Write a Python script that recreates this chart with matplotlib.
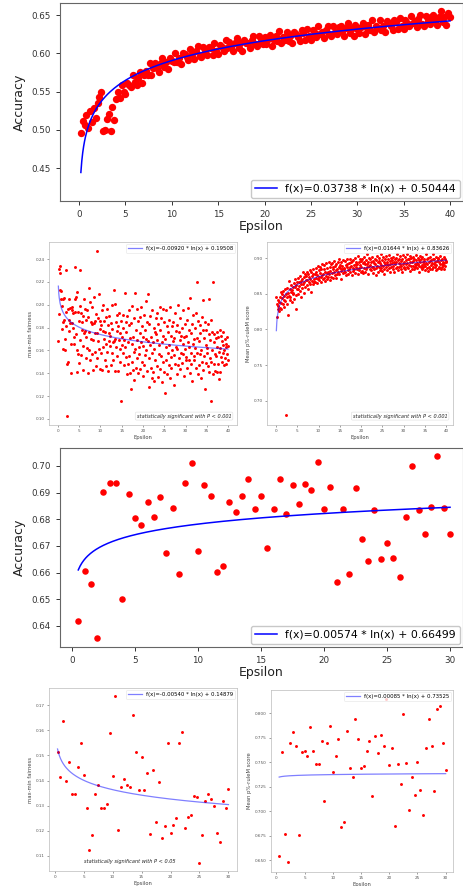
import numpy as np
import matplotlib
matplotlib.use("Agg")
import matplotlib.pyplot as plt

# ---------------- data ----------------
# Panel 1: accuracy vs epsilon (dense sweep)
eps1 = np.round(np.arange(1, 201) * 0.2, 1)
acc1 = [.496,.512,.506,.519,.503,.524,.510,.529,.516,.535,
        .543,.549,.498,.500,.514,.521,.498,.530,.513,.540,
        .549,.542,.558,.550,.547,.561,.559,.556,.571,.563,
        .559,.568,.575,.561,.571,.577,.572,.587,.572,.581,
        .587,.581,.576,.587,.594,.582,.589,.579,.594,.590,
        .589,.600,.588,.594,.586,.601,.599,.595,.591,.605,
        .599,.592,.603,.609,.597,.595,.608,.602,.598,.608,
        .607,.598,.613,.603,.599,.611,.608,.603,.617,.607,
        .615,.608,.603,.613,.620,.607,.613,.603,.617,.613,
        .614,.607,.618,.623,.612,.609,.622,.616,.612,.621,
        .612,.619,.624,.610,.618,.622,.616,.629,.613,.621,
        .618,.628,.616,.622,.613,.628,.625,.621,.616,.630,
        .627,.618,.632,.622,.618,.630,.626,.621,.635,.625,
        .628,.620,.631,.636,.625,.622,.635,.628,.625,.634,
        .636,.629,.623,.633,.640,.627,.633,.623,.637,.632,
        .627,.634,.639,.625,.633,.637,.630,.643,.628,.635,
        .633,.643,.630,.636,.628,.642,.639,.635,.630,.644,
        .641,.632,.646,.636,.632,.644,.640,.636,.649,.639,
        .642,.634,.645,.650,.638,.636,.649,.642,.638,.648,
        .650,.643,.637,.647,.655,.641,.648,.637,.652,.647]
fit1 = (0.03738, 0.50444)

# Panels 2 & 3: fairness metrics vs epsilon (dense sweep)
eps23 = np.round(np.arange(1, 401) * 0.1, 1)
fair2 = [.168,.192,.231,.228,.234,.213,.205,.212,.199,.179,
         .205,.185,.161,.187,.206,.160,.170,.181,.194,.230,
         .148,.103,.150,.196,.187,.205,.177,.184,.197,.166,
         .140,.184,.195,.198,.193,.180,.172,.166,.233,.194,
         .205,.207,.174,.141,.211,.160,.194,.157,.186,.149,
         .199,.169,.230,.193,.156,.178,.185,.143,.190,.164,
         .175,.205,.177,.196,.153,.187,.172,.162,.195,.140,
         .189,.160,.215,.176,.152,.202,.170,.185,.157,.183,
         .198,.169,.143,.184,.207,.175,.159,.186,.146,.192,
         .247,.175,.153,.188,.168,.209,.161,.179,.144,.186,
         .158,.182,.195,.143,.177,.163,.200,.170,.186,.152,
         .176,.146,.189,.166,.196,.159,.182,.142,.175,.168,
         .190,.164,.173,.147,.184,.200,.158,.179,.167,.152,
         .213,.168,.201,.170,.142,.185,.163,.177,.155,.191,
         .142,.181,.169,.193,.161,.175,.150,.186,.116,.165,
         .172,.191,.158,.180,.147,.169,.210,.163,.185,.154,
         .176,.139,.190,.148,.167,.182,.155,.195,.140,.171,
         .126,.184,.150,.166,.199,.143,.172,.159,.188,.134,
         .210,.161,.145,.178,.196,.153,.169,.140,.186,.163,
         .157,.189,.175,.144,.167,.198,.150,.181,.138,.172,
         .164,.191,.147,.178,.156,.170,.203,.160,.185,.142,
         .209,.168,.153,.183,.128,.165,.190,.145,.172,.136,
         .158,.195,.167,.141,.180,.161,.133,.176,.152,.188,
         .174,.146,.193,.169,.137,.183,.157,.165,.198,.144,
         .178,.155,.188,.132,.167,.196,.150,.173,.141,.185,
         .123,.170,.152,.195,.163,.139,.181,.158,.176,.147,
         .187,.165,.136,.198,.154,.173,.145,.181,.160,.168,
         .185,.130,.171,.156,.193,.148,.177,.163,.139,.182,
         .161,.200,.147,.176,.153,.169,.188,.144,.173,.158,
         .180,.149,.166,.195,.157,.172,.138,.183,.161,.152,
         .173,.154,.187,.145,.167,.197,.152,.163,.178,.140,
         .206,.158,.175,.148,.183,.133,.166,.191,.155,.170,
         .152,.180,.162,.193,.145,.171,.220,.158,.186,.139,
         .168,.147,.182,.157,.175,.136,.160,.189,.150,.178,
         .204,.143,.171,.155,.185,.126,.165,.149,.178,.158,
         .162,.183,.146,.174,.141,.205,.153,.169,.116,.187,
         .150,.176,.160,.139,.220,.167,.148,.174,.157,.142,
         .171,.155,.176,.141,.163,.148,.172,.135,.159,.178,
         .162,.141,.173,.154,.168,.150,.165,.158,.176,.147,
         .160,.153,.170,.163,.148,.166,.157,.172,.152,.164]
fit2 = (-0.00920, 0.19508)

prule3 = [.845,.818,.835,.828,.841,.833,.826,.838,.846,.830,
          .837,.853,.829,.844,.849,.836,.854,.832,.841,.847,
          .856,.840,.850,.680,.845,.858,.835,.851,.820,.847,
          .868,.846,.857,.841,.862,.852,.838,.855,.849,.860,
          .851,.865,.843,.859,.870,.848,.828,.862,.856,.866,
          .857,.872,.849,.866,.861,.875,.854,.868,.845,.863,
          .870,.858,.880,.864,.873,.851,.867,.877,.860,.869,
          .875,.862,.881,.869,.857,.878,.866,.873,.883,.864,
          .871,.880,.852,.875,.868,.884,.863,.877,.871,.866,
          .878,.867,.886,.872,.881,.865,.876,.889,.870,.874,
          .883,.869,.879,.887,.873,.866,.885,.876,.891,.871,
          .877,.890,.872,.884,.868,.880,.875,.893,.879,.870,
          .886,.874,.881,.895,.877,.869,.888,.882,.874,.891,
          .879,.893,.884,.872,.887,.880,.896,.876,.889,.883,
          .872,.891,.885,.878,.894,.881,.887,.898,.877,.886,
          .890,.882,.871,.895,.884,.889,.879,.897,.886,.880,
          .885,.896,.881,.890,.876,.892,.887,.899,.883,.878,
          .893,.884,.898,.887,.880,.894,.889,.876,.896,.886,
          .882,.897,.890,.885,.900,.879,.892,.888,.895,.884,
          .891,.878,.903,.886,.894,.883,.898,.890,.881,.896,
          .887,.899,.882,.893,.879,.901,.886,.895,.891,.880,
          .897,.884,.892,.905,.888,.878,.895,.889,.900,.885,
          .890,.898,.883,.894,.887,.902,.879,.896,.888,.893,
          .884,.899,.891,.876,.897,.886,.903,.889,.894,.881,
          .896,.888,.900,.883,.893,.890,.905,.886,.897,.882,
          .889,.901,.885,.895,.878,.898,.891,.887,.903,.892,
          .894,.883,.899,.890,.904,.886,.896,.881,.892,.900,
          .887,.897,.893,.884,.902,.889,.895,.880,.898,.891,
          .900,.886,.894,.905,.888,.897,.883,.893,.899,.887,
          .891,.903,.885,.896,.889,.880,.898,.892,.904,.886,
          .895,.888,.901,.884,.897,.892,.906,.887,.893,.899,
          .886,.898,.890,.903,.882,.895,.889,.900,.885,.894,
          .901,.889,.896,.884,.899,.892,.887,.904,.890,.897,
          .893,.886,.900,.891,.881,.897,.889,.895,.903,.888,
          .898,.890,.884,.902,.894,.887,.899,.891,.896,.883,
          .889,.905,.893,.886,.898,.891,.882,.900,.894,.887,
          .896,.885,.901,.890,.897,.884,.893,.906,.888,.899,
          .891,.899,.887,.895,.883,.902,.890,.896,.885,.898,
          .900,.888,.894,.886,.903,.891,.897,.884,.899,.892,
          .887,.895,.890,.901,.893,.885,.898,.889,.896,.894]
fit3 = (0.01644, 0.83626)

# Panels 4-6: coarse sweep
eps456 = np.round(np.arange(1, 61) * 0.5, 1)
acc4 = [.6420,.6605,.6558,.6356,.6903,.6936,.6936,.6501,.6895,.6804,
        .6780,.6864,.6809,.6884,.6675,.6843,.6593,.6938,.7013,.6681,
        .6928,.6889,.6601,.6623,.6864,.6826,.6886,.6950,.6840,.6886,
        .6691,.6838,.6950,.6819,.6928,.6859,.6934,.6911,.7015,.6840,
        .6920,.6563,.6840,.6593,.6918,.6728,.6643,.6835,.6651,.6711,
        .6656,.6585,.6810,.6999,.6835,.6746,.6845,.7036,.6843,.6746]
fit4 = (0.00574, 0.66499)

fair5 = [.1514,.1412,.1636,.1399,.1474,.1346,.1346,.1454,.1551,.1421,
         .1290,.1123,.1182,.1348,.1384,.1292,.1290,.1306,.1587,.1419,
         .1735,.1204,.1375,.1405,.1384,.1373,.1660,.1513,.1363,.1494,
         .1363,.1429,.1189,.1441,.1235,.1395,.1170,.1219,.1551,.1193,
         .1222,.1249,.1550,.1592,.1211,.1253,.1263,.1340,.1336,.1073,
         .1184,.1319,.1346,.1327,.1300,.1190,.1157,.1320,.1292,.1365]
fit5 = (-0.00540, 0.14879)

prule6 = [.6544,.7607,.6767,.6476,.7698,.7803,.7661,.6754,.7601,.7611,
          .7560,.7861,.7614,.7479,.7475,.7712,.7103,.7698,.7865,.7397,
          .7557,.7733,.6839,.6893,.7817,.7438,.7343,.7939,.7739,.7438,
          .7458,.7611,.7719,.7154,.7766,.7597,.7780,.7661,.8146,.7465,
          .7645,.6852,.7485,.7279,.7993,.7492,.7008,.7350,.7167,.7502,
          .7218,.6964,.7648,.7936,.7665,.7201,.8041,.8075,.7695,.7414]
fit6 = (0.00085, 0.73525)

W, H = 464, 886


def rect(l, t, r, b):
    return [l / W, 1 - b / H, (r - l) / W, (b - t) / H]


def fit_label(a, b):
    return "f(x)=%.5f * ln(x) + %.5f" % (a, b)


fig = plt.figure(figsize=(W / 100, H / 100), dpi=100)


def big_panel(r, x, y, fit, xlim, ylim, yticks, xticks, ms):
    ax = fig.add_axes(rect(*r))
    ax.scatter(x, y, s=ms, color="red", zorder=2, linewidths=0)
    xs = np.linspace(min(x), max(x), 400)
    ax.plot(xs, fit[0] * np.log(xs) + fit[1], color="blue", lw=1.1,
            zorder=3, label=fit_label(*fit))
    ax.set_xlim(*xlim)
    ax.set_ylim(*ylim)
    ax.set_xticks(xticks)
    ax.set_yticks(yticks)
    ax.set_yticklabels(["%.2f" % v for v in yticks])
    ax.tick_params(labelsize=6.3, colors="#333333", length=3, width=0.7)
    for s in ax.spines.values():
        s.set_color("#666666")
        s.set_linewidth(0.8)
    ax.set_xlabel("Epsilon", fontsize=9, color="#222222", labelpad=1)
    ax.set_ylabel("Accuracy", fontsize=9, color="#222222", labelpad=4)
    leg = ax.legend(loc="lower right", fontsize=7.8, borderaxespad=0.25,
                    handlelength=2.0, fancybox=True)
    leg.get_frame().set_edgecolor("#bbbbbb")
    return ax


def small_panel(r, x, y, fit, xlim, ylim, yticks, yfmt, xticks, ylabel,
                sig_text, sig_pos, sig_box):
    ax = fig.add_axes(rect(*r))
    ax.scatter(x, y, s=4.5, color="red", zorder=2, linewidths=0)
    xs = np.linspace(min(x), max(x), 400)
    ax.plot(xs, fit[0] * np.log(xs) + fit[1], color="blue", alpha=0.5,
            lw=0.9, zorder=3, label=fit_label(*fit))
    ax.set_xlim(*xlim)
    ax.set_ylim(*ylim)
    ax.set_xticks(xticks)
    ax.set_yticks(yticks)
    ax.set_yticklabels([yfmt % v for v in yticks])
    ax.tick_params(labelsize=3, colors="#555555", length=1.5, width=0.4,
                   pad=1.5)
    for s in ax.spines.values():
        s.set_color("#bbbbbb")
        s.set_linewidth(0.5)
    ax.set_xlabel("Epsilon", fontsize=3.8, color="#444444", labelpad=1.5)
    ax.set_ylabel(ylabel, fontsize=3.8, color="#444444", labelpad=2)
    leg = ax.legend(loc="upper right", fontsize=3.9, borderaxespad=0.3,
                    handlelength=2.5, fancybox=True)
    leg.get_frame().set_edgecolor("#dddddd")
    leg.get_frame().set_linewidth(0.4)
    if sig_text:
        bbox = None
        if sig_box:
            bbox = dict(boxstyle="round,pad=0.3", facecolor="white",
                        edgecolor="#dddddd", linewidth=0.4)
        ax.text(sig_pos[0], sig_pos[1], sig_text, transform=ax.transAxes,
                ha=sig_pos[2], va="bottom", fontsize=3.6, style="italic",
                color="#222222", bbox=bbox)
    return ax


big_panel((60, 3, 463, 201), eps1, acc1, fit1, (-2.05, 41.4),
          (0.407, 0.6657), [0.45, 0.50, 0.55, 0.60, 0.65],
          [0, 5, 10, 15, 20, 25, 30, 35, 40], 28)

small_panel((49, 242, 237, 425), eps23, fair2, fit2, (-2.1, 42.1),
            (0.0947, 0.2549), [0.10, 0.12, 0.14, 0.16, 0.18, 0.20, 0.22, 0.24],
            "%.2f", [0, 5, 10, 15, 20, 25, 30, 35, 40], "max-min fairness",
            "statistically significant with P < 0.001", (0.97, 0.035, "right"),
            True)

small_panel((267, 242, 453, 425), eps23, prule3, fit3, (-2.1, 41.6),
            (0.6664, 0.9224), [0.70, 0.75, 0.80, 0.85, 0.90],
            "%.2f", [0, 5, 10, 15, 20, 25, 30, 35, 40], "Mean p%-ruleM score",
            "statistically significant with P < 0.001", (0.97, 0.035, "right"),
            True)

big_panel((60, 448, 463, 647), eps456, acc4, fit4, (-0.95, 31.03),
          (0.6321, 0.70675), [0.64, 0.65, 0.66, 0.67, 0.68, 0.69, 0.70],
          [0, 5, 10, 15, 20, 25, 30], 22)

small_panel((49, 688, 237, 871), eps456, fair5, fit5, (-0.975, 31.475),
            (0.104, 0.1768), [0.11, 0.12, 0.13, 0.14, 0.15, 0.16, 0.17],
            "%.2f", [0, 5, 10, 15, 20, 25, 30], "max-min fairness",
            "statistically significant with P < 0.05", (0.43, 0.04, "center"),
            False)

small_panel((271, 690, 453, 872), eps456, prule6, fit6, (-0.95, 31.3),
            (0.6378, 0.8235), [0.650, 0.675, 0.700, 0.725, 0.750, 0.775, 0.800],
            "%.3f", [0, 5, 10, 15, 20, 25, 30], "Mean p%-ruleM score",
            None, None, False)

fig.savefig("out.png", dpi=100)
